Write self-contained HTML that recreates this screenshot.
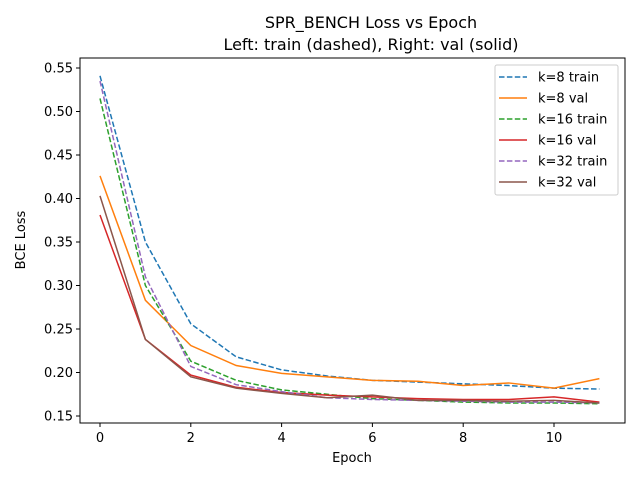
<!DOCTYPE html>
<html><head><meta charset="utf-8"><style>
body{margin:0;background:#fff}
text{font-family:"DejaVu Sans","Liberation Sans",sans-serif;fill:#000}
</style></head><body>
<svg id="chart" width="640" height="480" xmlns="http://www.w3.org/2000/svg">
<text x="371" y="28" font-size="16" text-anchor="middle">SPR_BENCH Loss vs Epoch</text>
<text x="371" y="50" font-size="16" text-anchor="middle">Left: train (dashed), Right: val (solid)</text>
<g id="axes"></g>
<g id="plot"></g>
<rect x="80" y="58" width="545" height="365" fill="none" stroke="#000" stroke-width="1"/>
<g id="legend"></g>
<text x="352" y="462" font-size="13" text-anchor="middle">Epoch</text>
<text transform="translate(25,240) rotate(-90)" font-size="13" text-anchor="middle">BCE Loss</text>
</svg>
<script>
const epochs=[0,1,2,3,4,5,6,7,8,9,10,11];
const k8Train=[0.541,0.350,0.256,0.218,0.203,0.196,0.191,0.189,0.187,0.185,0.182,0.181];
const k8Val=[0.426,0.283,0.231,0.208,0.199,0.195,0.191,0.190,0.185,0.188,0.182,0.193];
const k16Train=[0.515,0.300,0.213,0.191,0.180,0.175,0.170,0.168,0.166,0.165,0.165,0.164];
const k16Val=[0.381,0.238,0.197,0.183,0.177,0.174,0.172,0.170,0.169,0.169,0.172,0.166];
const k32Train=[0.535,0.310,0.207,0.186,0.178,0.171,0.169,0.168,0.167,0.166,0.166,0.165];
const k32Val=[0.403,0.238,0.195,0.182,0.176,0.171,0.174,0.168,0.168,0.167,0.168,0.165];
const xTicks=[0,2,4,6,8,10];
const yTicks=[0.15,0.20,0.25,0.30,0.35,0.40,0.45,0.50,0.55];
const seriesNames=["k=8 train","k=8 val","k=16 train","k=16 val","k=32 train","k=32 val"];
const seriesData=[k8Train,k8Val,k16Train,k16Val,k32Train,k32Val];
const colors=["#1f77b4","#ff7f0e","#2ca02c","#d62728","#9467bd","#8c564b"];
const NS="http://www.w3.org/2000/svg";
const X=v=>100+v*45.4;
const Y=v=>416-(v-0.15)*870;
function mk(tag,at,parent){const e=document.createElementNS(NS,tag);for(const k in at)e.setAttribute(k,at[k]);parent.appendChild(e);return e;}
const axes=document.getElementById('axes');
xTicks.forEach(t=>{
 const l=mk('line',{x1:X(t),x2:X(t),y1:423,y2:427,stroke:'#000'},axes);
 
 
 const tx=mk('text',{x:X(t),y:442,'font-size':13,'text-anchor':'middle'},axes);
 tx.textContent=t;
 
 
});
yTicks.forEach(t=>{
 const l=mk('line',{x1:76,x2:80,y1:Y(t),y2:Y(t),stroke:'#000'},axes);
 
 
 const tx=mk('text',{x:73,y:Y(t)+4.5,'font-size':13,'text-anchor':'end'},axes);
 tx.textContent=t.toFixed(2);
 
 
});
const plot=document.getElementById('plot');
seriesData.forEach((d,i)=>{
 const pts=d.map((v,j)=>X(epochs[j])+','+Y(v)).join(' ');
 const at={points:pts,fill:'none',stroke:colors[i],'stroke-width':1.5};
 if(i%2===0)at['stroke-dasharray']='5.5,2.4';
 const p=mk('polyline',at,plot);
 
 
});
const lg=document.getElementById('legend');
const box=mk('rect',{x:495,y:65,width:123,height:130,rx:2,fill:'#fff',stroke:'#ccc','fill-opacity':0.8},lg);


seriesNames.forEach((n,i)=>{
 const y=77+i*21;
 const at={x1:499,x2:527,y1:y,y2:y,stroke:colors[i],'stroke-width':1.5};
 if(i%2===0)at['stroke-dasharray']='5.5,2.4';
 const l=mk('line',at,lg);
 
 
 const t=mk('text',{x:538,y:y+4.5,'font-size':13},lg);
 t.textContent=n;
 
 
});
</script>
</body></html>
